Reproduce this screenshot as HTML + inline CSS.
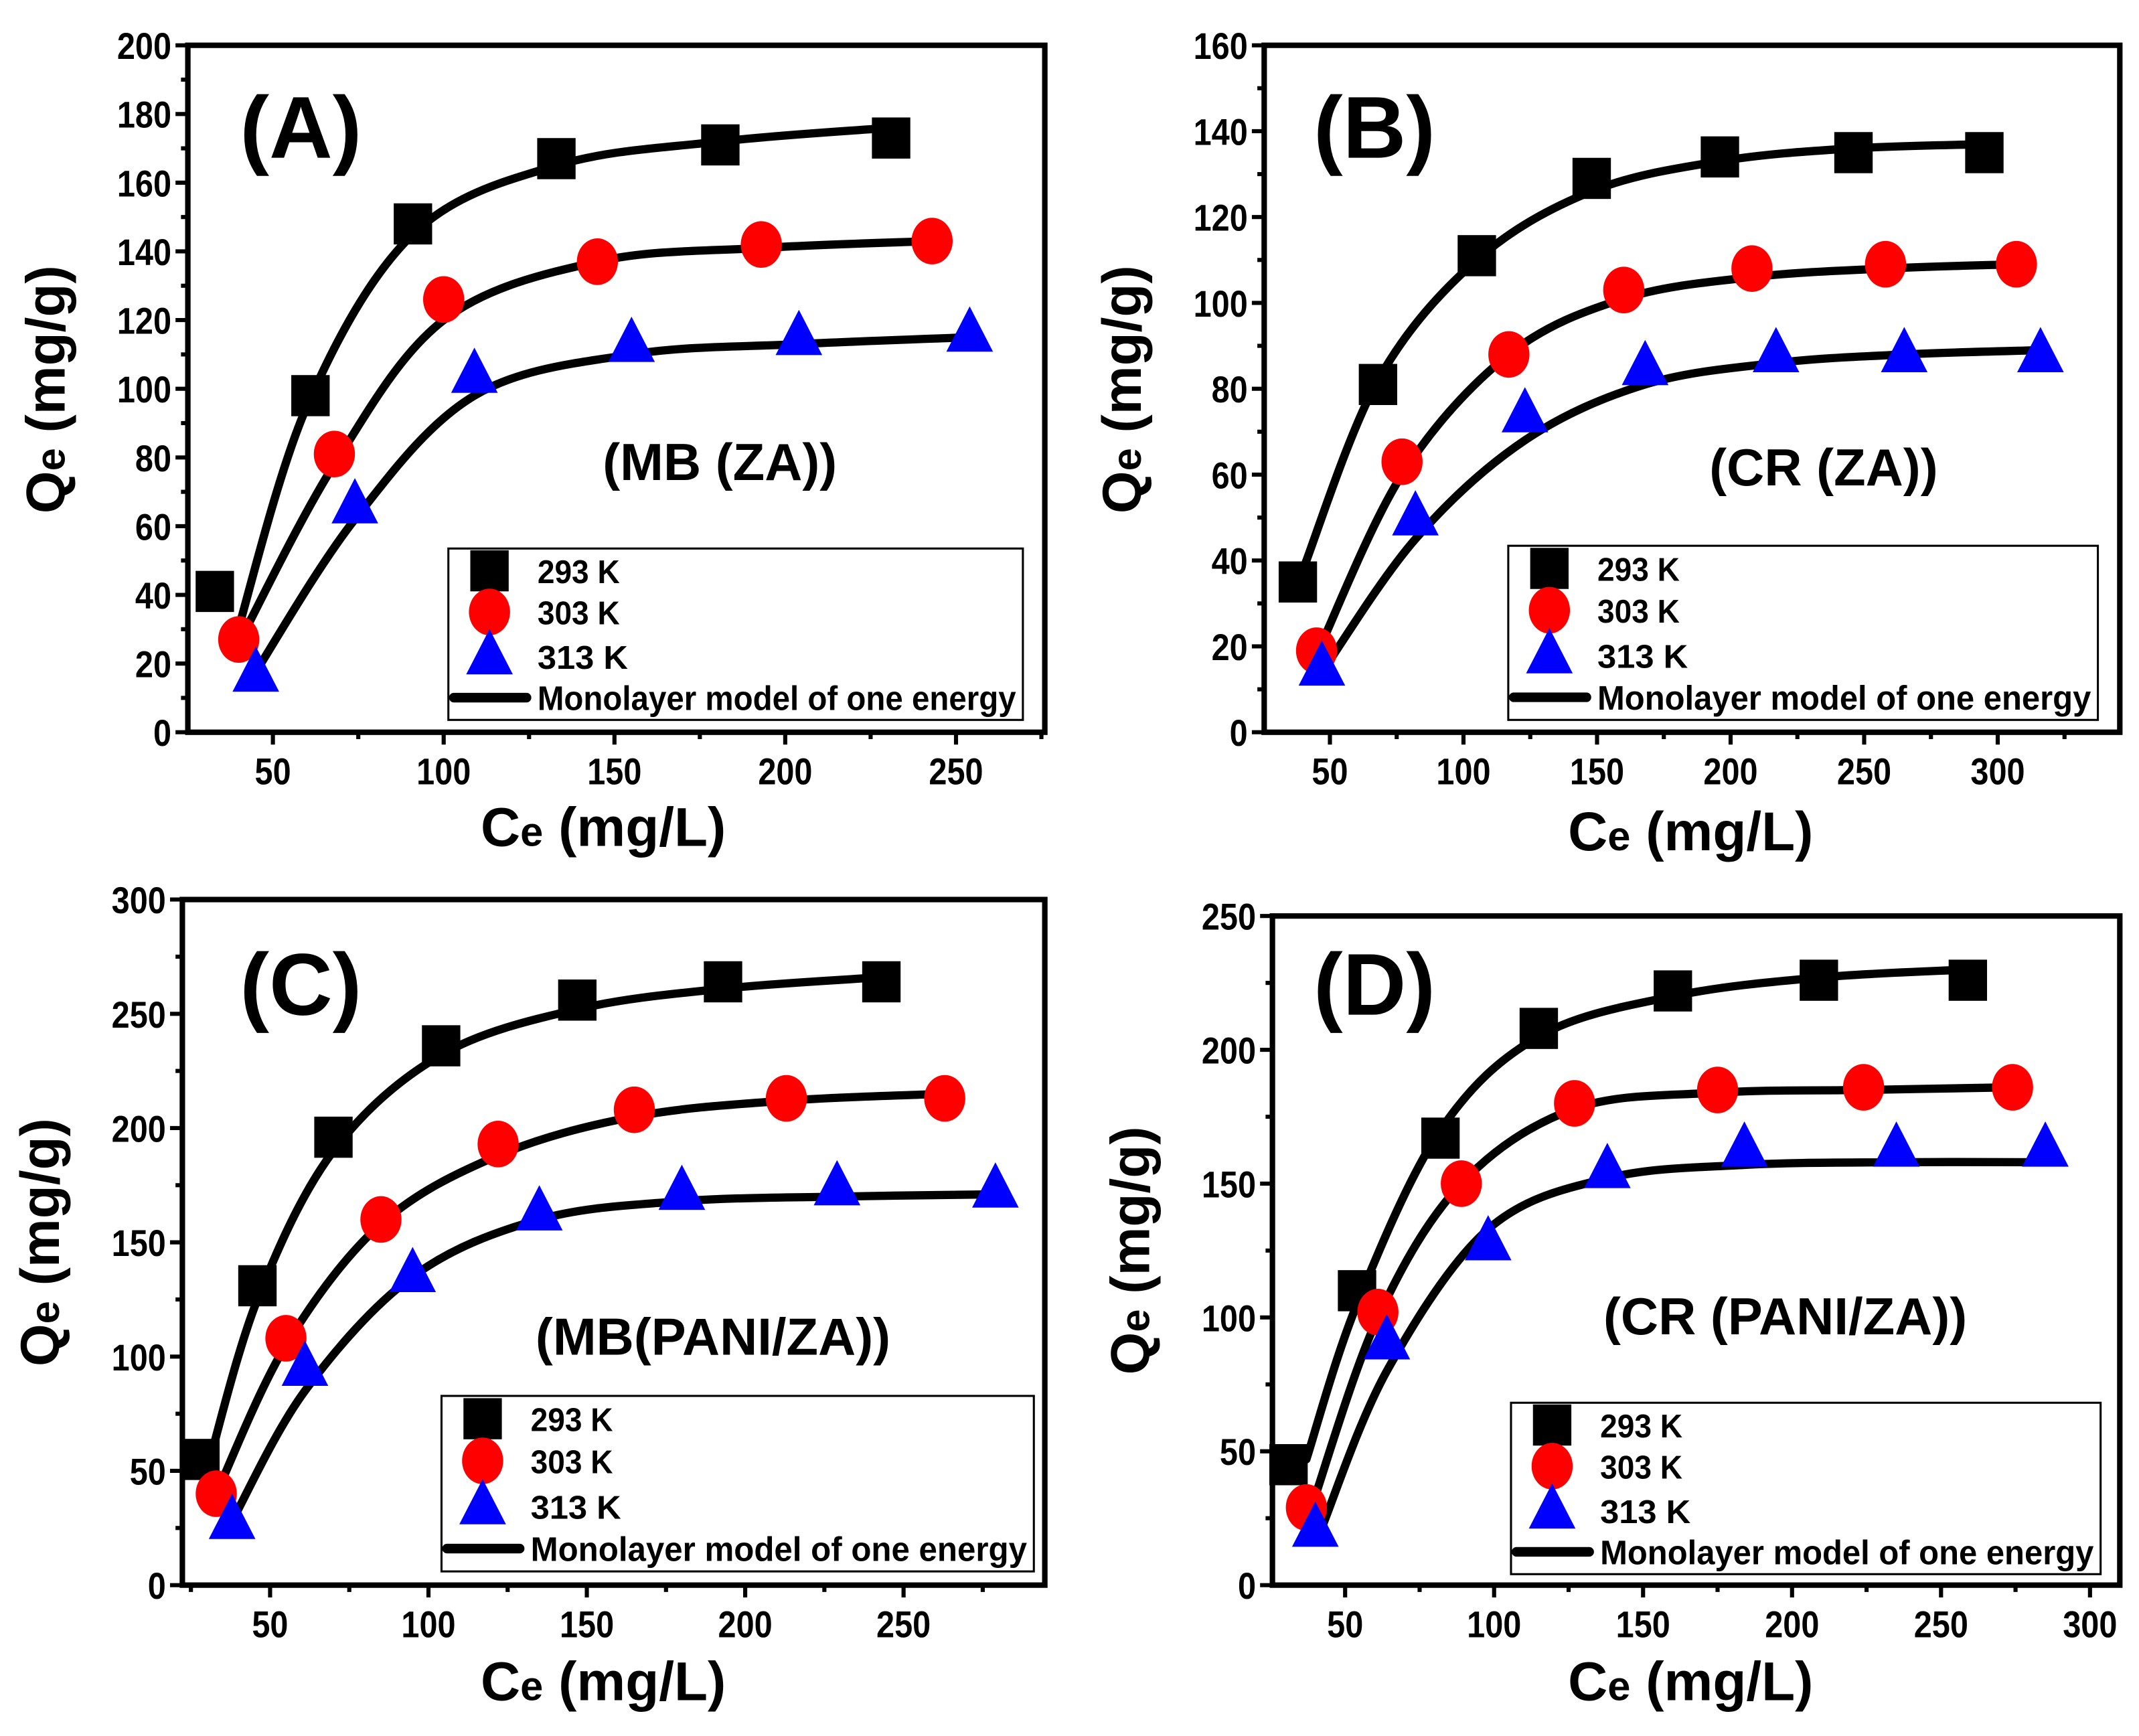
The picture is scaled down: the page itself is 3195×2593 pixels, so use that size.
<!DOCTYPE html>
<html><head><meta charset="utf-8"><style>
html,body{margin:0;padding:0;background:#fff;}
svg{display:block;}
text{font-family:"Liberation Sans",sans-serif;font-weight:bold;fill:#000;}
</style></head><body>
<svg id="fig" width="3195" height="2593" viewBox="0 0 1560 1266" xmlns="http://www.w3.org/2000/svg"></svg>
<script>
// ---- Panel A data (MB ZA)
const aX293=[33,61,91,133,181,231], aY293=[41,98,148,167,171,173];
const aX303=[40,68,100,145,193,243], aY303=[27,81,126,137,142,143];
const aX313=[45,74,109,155,204,254], aY313=[17,66,104,113,115,116];
const aFX293=[39,60,91,133,181,231], aFY293=[27,95,145,165,172,176];
const aFX303=[40,68,100,145,193,243], aFY303=[26,78,120,137,141,143];
const aFX313=[44,74,109,155,204,254], aFY313=[16,62,98,110,113,115];
// ---- Panel B data (CR ZA)
const bX293=[38,68,105,148,196,246,295], bY293=[35,81,111,129,134,135,135];
const bX303=[45,77,117,160,208,258,307], bY303=[19,63,88,103,108,109,109];
const bX313=[47,82,123,168,217,265,316], bY313=[15,50,74,85,88,88,88];
const bFX293=[40,68,105,148,196,246,298], bFY293=[38,82,110,126,133,136,137];
const bFX303=[45,77,117,160,208,258,307], bFY303=[18,60,88,101,106,108,109];
const bFX313=[47,82,123,168,217,265,316], bFY313=[14,45,68,81,86,88,89];
// ---- Panel C data (MB PANI/ZA)
const cX293=[28,46,70,104,147,193,243], cY293=[55,131,196,236,256,264,264];
const cX303=[33,55,85,122,165,213,263], cY303=[40,108,160,193,208,213,213];
const cX313=[38,61,95,135,180,229,279], cY313=[28,95,136,163,172,174,173];
const cFX293=[30,46,70,104,147,193,243], cFY293=[50,125,190,232,252,261,266];
const cFX303=[33,55,85,122,165,213,263], cFY303=[40,105,158,188,205,212,215];
const cFX313=[38,61,95,135,180,229,279], cFY313=[28,85,135,160,168,170,171];
// ---- Panel D data (CR PANI/ZA)
const dX293=[31,54,82,115,160,209,259], dY293=[45,110,167,208,222,226,226];
const dX303=[37,61,89,127,175,224,274], dY303=[29,102,150,180,185,186,186];
const dX313=[40,64,98,138,184,235,285], dY313=[21,91,128,155,163,163,163];
const dFX293=[37,54,82,115,160,209,259], dFY293=[47,105,170,205,220,227,230];
const dFX303=[39,61,89,127,175,224,274], dFY303=[30,100,150,178,184,185,186];
const dFX313=[42,64,98,138,184,235,285], dFY313=[21,80,133,152,157,158,158];
// tick labels
const aXTicks=[50,100,150,200,250], aYTicks=[0,20,40,60,80,100,120,140,160,180,200];
const bXTicks=[50,100,150,200,250,300], bYTicks=[0,20,40,60,80,100,120,140,160];
const cXTicks=[50,100,150,200,250], cYTicks=[0,50,100,150,200,250,300];
const dXTicks=[50,100,150,200,250,300], dYTicks=[0,50,100,150,200,250];

const NS="http://www.w3.org/2000/svg";
const svg=document.getElementById('fig');
function mk(tag,attrs,parent){const e=document.createElementNS(NS,tag);for(const k in attrs)e.setAttribute(k,attrs[k]);(parent||svg).appendChild(e);return e;}

const panels=[
 {id:'a',L:137,R:762,T:33,B:534,x0:25.1,x1:276,y0:0,y1:200,xt:aXTicks,yt:aYTicks,xm:25,ym:10,
  S:[[aX293,aY293],[aX303,aY303],[aX313,aY313]],F:[[aFX293,aFY293],[aFX303,aFY303],[aFX313,aFY313]],
  lab:'(A)',labX:175,labY:115,name:'(MB (ZA))',nX:525,nY:350,leg:[327,400,746,525],qy:284,cx:440,cy:617},
 {id:'b',L:922,R:1546,T:33,B:534,x0:25.4,x1:345.7,y0:0,y1:160,xt:bXTicks,yt:bYTicks,xm:25,ym:10,
  S:[[bX293,bY293],[bX303,bY303],[bX313,bY313]],F:[[bFX293,bFY293],[bFX303,bFY303],[bFX313,bFY313]],
  lab:'(B)',labX:958,labY:115,name:'(CR (ZA))',nX:1330,nY:354,leg:[1100,398,1530,525],qy:284,cx:1233,cy:620},
 {id:'c',L:133,R:762,T:656,B:1156,x0:22.3,x1:294.6,y0:0,y1:300,xt:cXTicks,yt:cYTicks,xm:25,ym:25,
  S:[[cX293,cY293],[cX303,cY303],[cX313,cY313]],F:[[cFX293,cFY293],[cFX303,cFY303],[cFX313,cFY313]],
  lab:'(C)',labX:175,labY:740,name:'(MB(PANI/ZA))',nX:520,nY:988,leg:[322,1018,754,1146],qy:906,cx:440,cy:1240},
 {id:'d',L:928,R:1546,T:668,B:1156,x0:25.6,x1:310,y0:0,y1:250,xt:dXTicks,yt:dYTicks,xm:25,ym:25,
  S:[[dX293,dY293],[dX303,dY303],[dX313,dY313]],F:[[dFX293,dFY293],[dFX303,dFY303],[dFX313,dFY313]],
  lab:'(D)',labX:958,labY:740,name:'(CR (PANI/ZA))',nX:1302,nY:973,leg:[1102,1023,1532,1148],qy:912,cx:1233,cy:1240}
];
const temps=['293 K','303 K','313  K'];

function marker(g,k,x,y,name){
  let e;
  if(k===0){e=mk('rect',{x:x-14,y:y-15,width:28,height:30,fill:'#000'},g);}
  else if(k===1){e=mk('ellipse',{cx:x,cy:y,rx:15,ry:17,fill:'#ff0000'},g);}
  else {e=mk('polygon',{points:`${x},${y-20} ${x+17},${y+13} ${x-17},${y+13}`,fill:'#0000ff'},g);}
  
  
}
function smooth(pts){
  let d=`M${pts[0][0]},${pts[0][1]}`;
  for(let i=0;i<pts.length-1;i++){
    const p0=pts[Math.max(0,i-1)],p1=pts[i],p2=pts[i+1],p3=pts[Math.min(pts.length-1,i+2)];
    const c1=[p1[0]+(p2[0]-p0[0])/6,p1[1]+(p2[1]-p0[1])/6];
    const c2=[p2[0]-(p3[0]-p1[0])/6,p2[1]-(p3[1]-p1[1])/6];
    d+=` C${c1[0]},${c1[1]} ${c2[0]},${c2[1]} ${p2[0]},${p2[1]}`;
  }
  return d;
}

panels.forEach(p=>{
  const g=mk('g',{});
  
  
  const sx=v=>p.L+(v-p.x0)/(p.x1-p.x0)*(p.R-p.L);
  const sy=v=>p.B-(v-p.y0)/(p.y1-p.y0)*(p.B-p.T);
  for(let v=Math.ceil(p.x0/p.xm)*p.xm;v<=p.x1;v+=p.xm){
    const major=p.xt.includes(v);
    const t=mk('line',{x1:sx(v),x2:sx(v),y1:p.B,y2:p.B+(major?9:5),stroke:'#000','stroke-width':3},g);
    
    
  }
  for(let v=p.y0;v<=p.y1;v+=p.ym){
    const major=p.yt.includes(v);
    const t=mk('line',{x1:p.L,x2:p.L-(major?9:5),y1:sy(v),y2:sy(v),stroke:'#000','stroke-width':3},g);
    
    
  }
  p.xt.forEach(v=>{
    const t=mk('text',{x:0,y:0,'text-anchor':'middle','font-size':27,transform:`translate(${sx(v)},${p.B+38}) scale(0.88,1)`},g);
    t.textContent=v;
    
    
  });
  p.yt.forEach(v=>{
    const t=mk('text',{x:0,y:0,'text-anchor':'end','font-size':27,transform:`translate(${p.L-12},${sy(v)+10}) scale(0.88,1)`},g);
    t.textContent=v;
    
    
  });
  p.F.forEach((f,k)=>{
    const pts=f[0].map((x,i)=>[sx(x),sy(f[1][i])]);
    const e=mk('path',{d:smooth(pts),fill:'none',stroke:'#000','stroke-width':6,'stroke-linecap':'round'},g);
    
    
  });
  p.S.forEach((s,k)=>{
    s[0].forEach((x,i)=>marker(g,k,sx(x),sy(s[1][i]),'point-'+temps[k].replace(/\s+/g,'').toLowerCase()));
  });
  const fr=mk('rect',{x:p.L,y:p.T,width:p.R-p.L,height:p.B-p.T,fill:'none',stroke:'#000','stroke-width':4},g);
  
  
  let t=mk('text',{x:p.labX,y:p.labY,'font-size':64},g);
  t.textContent=p.lab;
  
  
  t=mk('text',{x:p.nX,y:p.nY,'text-anchor':'middle','font-size':38},g);
  t.textContent=p.name;
  
  
  t=mk('text',{x:p.cx,y:p.cy,'text-anchor':'middle','font-size':40},g);
  t.innerHTML='C<tspan font-size="30">e</tspan> (mg/L)';
  
  
  t=mk('text',{x:0,y:0,'text-anchor':'middle','font-size':40,transform:`translate(${p.L-90},${p.qy}) rotate(-90)`},g);
  t.innerHTML='Q<tspan font-size="30">e</tspan> (mg/g)';
  
  
  const [lx,ly,rx,ry]=p.leg;
  const lg=mk('g',{},g);
  
  
  mk('rect',{x:lx,y:ly,width:rx-lx,height:ry-ly,fill:'#fff',stroke:'#000','stroke-width':1.5},lg);
  const h=ry-ly, rows=[ly+h*0.13,ly+h*0.37,ly+h*0.63,ly+h*0.87];
  for(let k=0;k<3;k++){
    marker(lg,k,lx+30,rows[k],'legend-marker-'+k);
    const tt=mk('text',{x:lx+65,y:rows[k]+9,'font-size':24,textLength:temps[k]==='313  K'?66:60,lengthAdjust:'spacingAndGlyphs'},lg);
    tt.textContent=temps[k];
    
    
  }
  const ll=mk('line',{x1:lx+4,x2:lx+57,y1:rows[3],y2:rows[3],stroke:'#000','stroke-width':7,'stroke-linecap':'round'},lg);
  
  
  const tt=mk('text',{x:lx+65,y:rows[3]+9,'font-size':25,textLength:rx-lx-70,lengthAdjust:'spacingAndGlyphs'},lg);
  tt.textContent='Monolayer model of one energy';
  
  
});
</script>
</body></html>
